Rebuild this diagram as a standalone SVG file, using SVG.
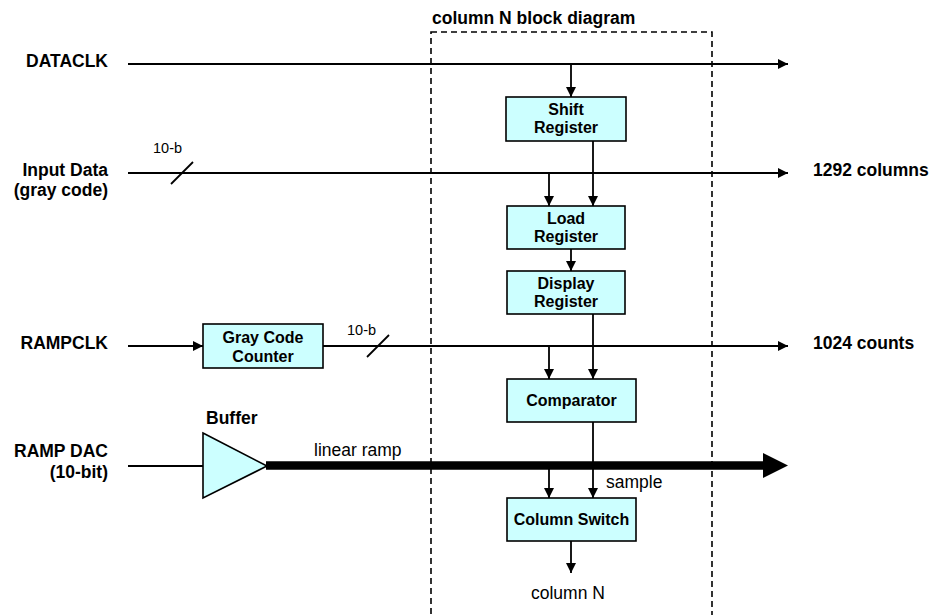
<svg xmlns="http://www.w3.org/2000/svg" width="930" height="615" viewBox="0 0 930 615">
<defs>
<style>
.lbl{font-family:"Liberation Sans",Arial,sans-serif;font-weight:bold;font-size:17.5px;fill:#000}
.box text{font-family:"Liberation Sans",Arial,sans-serif;font-weight:bold;font-size:16px;fill:#000;text-anchor:middle}
.box rect,.box polygon{fill:#CCFFFF;stroke:#000;stroke-width:1.6}
.reg{font-family:"Liberation Sans",Arial,sans-serif;font-size:17.5px;fill:#000}
.sm{font-family:"Liberation Sans",Arial,sans-serif;font-size:14.5px;fill:#000}
.ln{stroke:#000;stroke-width:1.8;fill:none}
.arr{stroke:#000;stroke-width:1.8;fill:none;marker-end:url(#ah)}
</style>
<marker id="ah" markerUnits="userSpaceOnUse" markerWidth="11" markerHeight="10" refX="10" refY="5" orient="auto">
<path d="M0,0 L10,5 L0,10 z" fill="#000"/>
</marker>
</defs>
<rect width="930" height="615" fill="#fff"/>
<rect x="431" y="32" width="281" height="600" fill="none" stroke="#000" stroke-width="1.6" stroke-dasharray="6,4"/>
<text class="lbl" x="432" y="24">column N block diagram</text>

<g class="lbl" text-anchor="end">
<text x="108" y="67">DATACLK</text>
<text x="108" y="176">Input Data</text>
<text x="108" y="196">(gray code)</text>
<text x="108" y="349">RAMPCLK</text>
<text x="108" y="457">RAMP DAC</text>
<text x="108" y="478">(10-bit)</text>
</g>
<text class="lbl" x="813" y="176">1292 columns</text>
<text class="lbl" x="813" y="349">1024 counts</text>
<text class="lbl" x="206" y="424">Buffer</text>
<text class="reg" x="314" y="456">linear ramp</text>
<text class="reg" x="606" y="488">sample</text>
<text class="reg" x="531" y="599">column N</text>
<text class="sm" x="153" y="153">10-b</text>
<text class="sm" x="347" y="335">10-b</text>

<g id="connectors">
<line class="arr" x1="128" y1="64" x2="788" y2="64"/>
<line class="arr" x1="128" y1="173" x2="788" y2="173"/>
<line class="ln" x1="171" y1="184" x2="193" y2="162"/>
<line class="arr" x1="128" y1="346" x2="203" y2="346"/>
<line class="arr" x1="323" y1="346" x2="788" y2="346"/>
<line class="ln" x1="367" y1="357" x2="389" y2="335"/>
<line class="ln" x1="128" y1="466" x2="203" y2="466"/>
<line x1="266" y1="465.5" x2="764" y2="465.5" stroke="#000" stroke-width="8.5"/>
<polygon points="763,453 788,465.5 763,478" fill="#000"/>
<line class="arr" x1="571" y1="64" x2="571" y2="97"/>
<line class="arr" x1="593" y1="141" x2="593" y2="206"/>
<line class="arr" x1="549" y1="173" x2="549" y2="206"/>
<line class="arr" x1="571" y1="249" x2="571" y2="271"/>
<line class="arr" x1="593" y1="314" x2="593" y2="379"/>
<line class="arr" x1="549" y1="346" x2="549" y2="379"/>
<line class="arr" x1="593" y1="422" x2="593" y2="498"/>
<line class="arr" x1="549" y1="465" x2="549" y2="498"/>
<line class="arr" x1="571" y1="541" x2="571" y2="573"/>
</g>

<g id="shift" class="box">
<rect x="506" y="97" width="120" height="44"/>
<text x="566" y="115">Shift</text>
<text x="566" y="133">Register</text>
</g>
<g id="load" class="box">
<rect x="507" y="206" width="118" height="43"/>
<text x="566" y="224">Load</text>
<text x="566" y="242">Register</text>
</g>
<g id="display" class="box">
<rect x="507" y="271" width="118" height="43"/>
<text x="566" y="289">Display</text>
<text x="566" y="307">Register</text>
</g>
<g id="comparator" class="box">
<rect x="507" y="379" width="129" height="43"/>
<text x="571.5" y="406">Comparator</text>
</g>
<g id="colswitch" class="box">
<rect x="507" y="498" width="129" height="43"/>
<text x="571.5" y="525">Column Switch</text>
</g>
<g id="counter" class="box">
<rect x="203" y="324" width="120" height="44"/>
<text x="263" y="343">Gray Code</text>
<text x="263" y="362">Counter</text>
</g>
<g id="buffer" class="box">
<polygon points="203,433 267,466 203,498"/>
</g>
</svg>
